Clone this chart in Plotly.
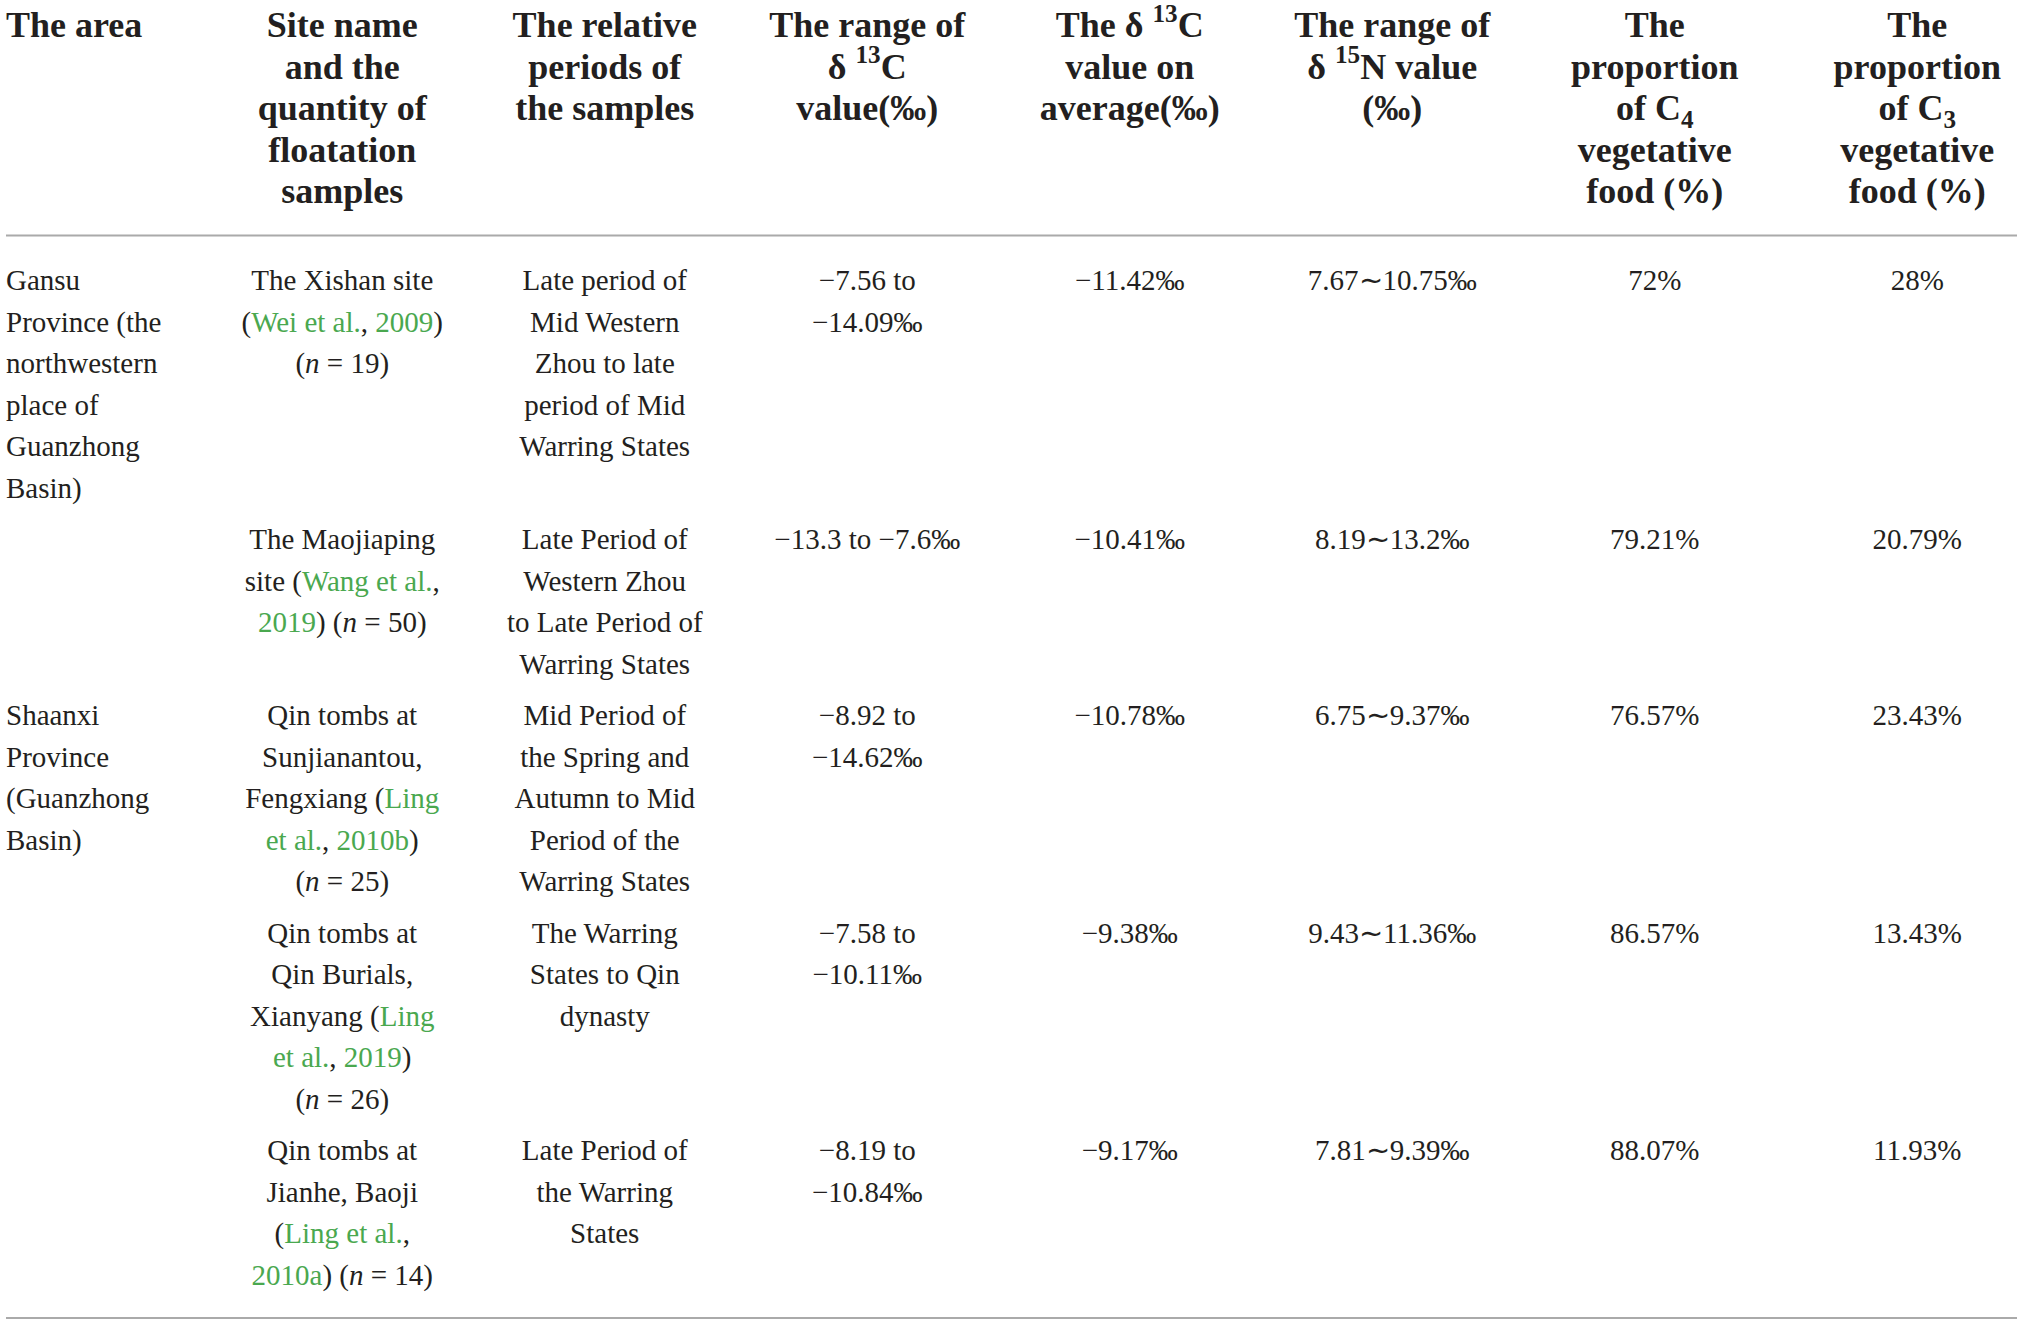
import numpy as np
import plotly.graph_objects as go

GREEN = '#4aa84f'
INK = '#231f20'


def ref(t):
    return f"<span style='color:{GREEN}'>{t}</span>"


# column headers
headers = ['The area',
           'Site name<br>and the<br>quantity of<br>floatation<br>samples',
           'The relative<br>periods of<br>the samples',
           'The range of<br>δ <sup>13</sup>C<br>value(‰)',
           'The δ <sup>13</sup>C<br>value on<br>average(‰)',
           'The range of<br>δ <sup>15</sup>N value<br>(‰)',
           'The<br>proportion<br>of C<sub>4</sub><br>vegetative<br>food (%)',
           'The<br>proportion<br>of C<sub>3</sub><br>vegetative<br>food (%)']

# table body
areas = ['Gansu<br>Province (the<br>northwestern<br>place of<br>Guanzhong<br>Basin)',
         '',
         'Shaanxi<br>Province<br>(Guanzhong<br>Basin)',
         '',
         '']
sites = ['The Xishan site<br>(' + ref('Wei et al.') + ', ' + ref('2009') + ')<br>(<i>n</i> = 19)',
         'The Maojiaping<br>site (' + ref('Wang et al.') + ',<br>' + ref('2019') + ') (<i>n</i> = 50)',
         'Qin tombs at<br>Sunjianantou,<br>Fengxiang (' + ref('Ling') + '<br>' + ref('et al.') + ', '
         + ref('2010b') + ')<br>(<i>n</i> = 25)',
         'Qin tombs at<br>Qin Burials,<br>Xianyang (' + ref('Ling') + '<br>' + ref('et al.') + ', '
         + ref('2019') + ')<br>(<i>n</i> = 26)',
         'Qin tombs at<br>Jianhe, Baoji<br>(' + ref('Ling et al.') + ',<br>' + ref('2010a') + ') (<i>n</i> = 14)']
periods = ['Late period of<br>Mid Western<br>Zhou to late<br>period of Mid<br>Warring States',
           'Late Period of<br>Western Zhou<br>to Late Period of<br>Warring States',
           'Mid Period of<br>the Spring and<br>Autumn to Mid<br>Period of the<br>Warring States',
           'The Warring<br>States to Qin<br>dynasty',
           'Late Period of<br>the Warring<br>States']
c13_range = ['−7.56 to<br>−14.09‰', '−13.3 to −7.6‰', '−8.92 to<br>−14.62‰',
             '−7.58 to<br>−10.11‰', '−8.19 to<br>−10.84‰']
c13_mean = [-11.42, -10.41, -10.78, -9.38, -9.17]
n15_range = ['7.67∼10.75‰', '8.19∼13.2‰', '6.75∼9.37‰', '9.43∼11.36‰', '7.81∼9.39‰']
c4_share = [72, 79.21, 76.57, 86.57, 88.07]
c3_share = [28, 20.79, 23.43, 13.43, 11.93]

c13_mean_txt = ['−%.2f‰' % abs(v) for v in c13_mean]
c4_txt = ['%g%%' % v for v in c4_share]
c3_txt = ['%g%%' % v for v in c3_share]
columns = [areas, sites, periods, c13_range, c13_mean_txt, n15_range, c4_txt, c3_txt]

# layout of the table (pixels)
W, H = 2019, 1322
col_w = [211] + [262.5] * 7
LINE = 41.5          # line step
ROW_GAP = 10         # extra space between body rows
HEAD_TOP = 28        # centre of first header line
BODY_TOP = 283       # centre of first body line
FONT = 'Liberation Serif'

edges = np.concatenate([[0], np.cumsum(col_w)])
x_pos = list((edges[:-1] + edges[1:]) / 2)
x_pos[0] = 6


def lines(t):
    return t.split('<br>') if t else []


# header text, one point per line
hx, hy, ht, hp = [], [], [], []
for c, h in enumerate(headers):
    for j, ln in enumerate(lines(h)):
        hx.append(x_pos[c])
        hy.append(HEAD_TOP + j * LINE)
        ht.append('<b>' + ln + '</b>')
        hp.append('middle right' if c == 0 else 'middle center')

# body text, one point per line, rows stacked by their tallest cell
bx, by, bt, bp = [], [], [], []
row_top = BODY_TOP
for r in range(len(areas)):
    n = max(len(lines(col[r])) for col in columns)
    for c, col in enumerate(columns):
        for j, ln in enumerate(lines(col[r])):
            bx.append(x_pos[c])
            by.append(row_top + j * LINE)
            bt.append(ln)
            bp.append('middle right' if c == 0 else 'middle center')
    last_line = row_top + (n - 1) * LINE
    row_top += n * LINE + ROW_GAP

head_rule = BODY_TOP - LINE - 6
foot_rule = last_line + LINE - 1

fig = go.Figure()
fig.add_trace(go.Scatter(x=hx, y=hy, text=ht, mode='text', textposition=hp,
                         textfont=dict(family=FONT, size=36, color=INK),
                         hoverinfo='skip', showlegend=False))
fig.add_trace(go.Scatter(x=bx, y=by, text=bt, mode='text', textposition=bp,
                         textfont=dict(family=FONT, size=29, color=INK),
                         hoverinfo='skip', showlegend=False))

for yr in [head_rule, foot_rule]:
    fig.add_shape(type='line', xref='x', yref='y', x0=6, x1=W - 2, y0=yr, y1=yr,
                  line=dict(color='#aaaaaa', width=2))

fig.update_xaxes(range=[0, W], visible=False, fixedrange=True)
fig.update_yaxes(range=[H, 0], visible=False, fixedrange=True)
fig.update_layout(width=W, height=H,
                  margin=dict(l=0, r=0, t=0, b=0),
                  paper_bgcolor='white', plot_bgcolor='white')

# page body margin off so the figure fills the window exactly
fig.write_html('out.html', config={'displayModeBar': False},
               post_script="document.body.style.margin='0';document.body.style.overflow='hidden';")
